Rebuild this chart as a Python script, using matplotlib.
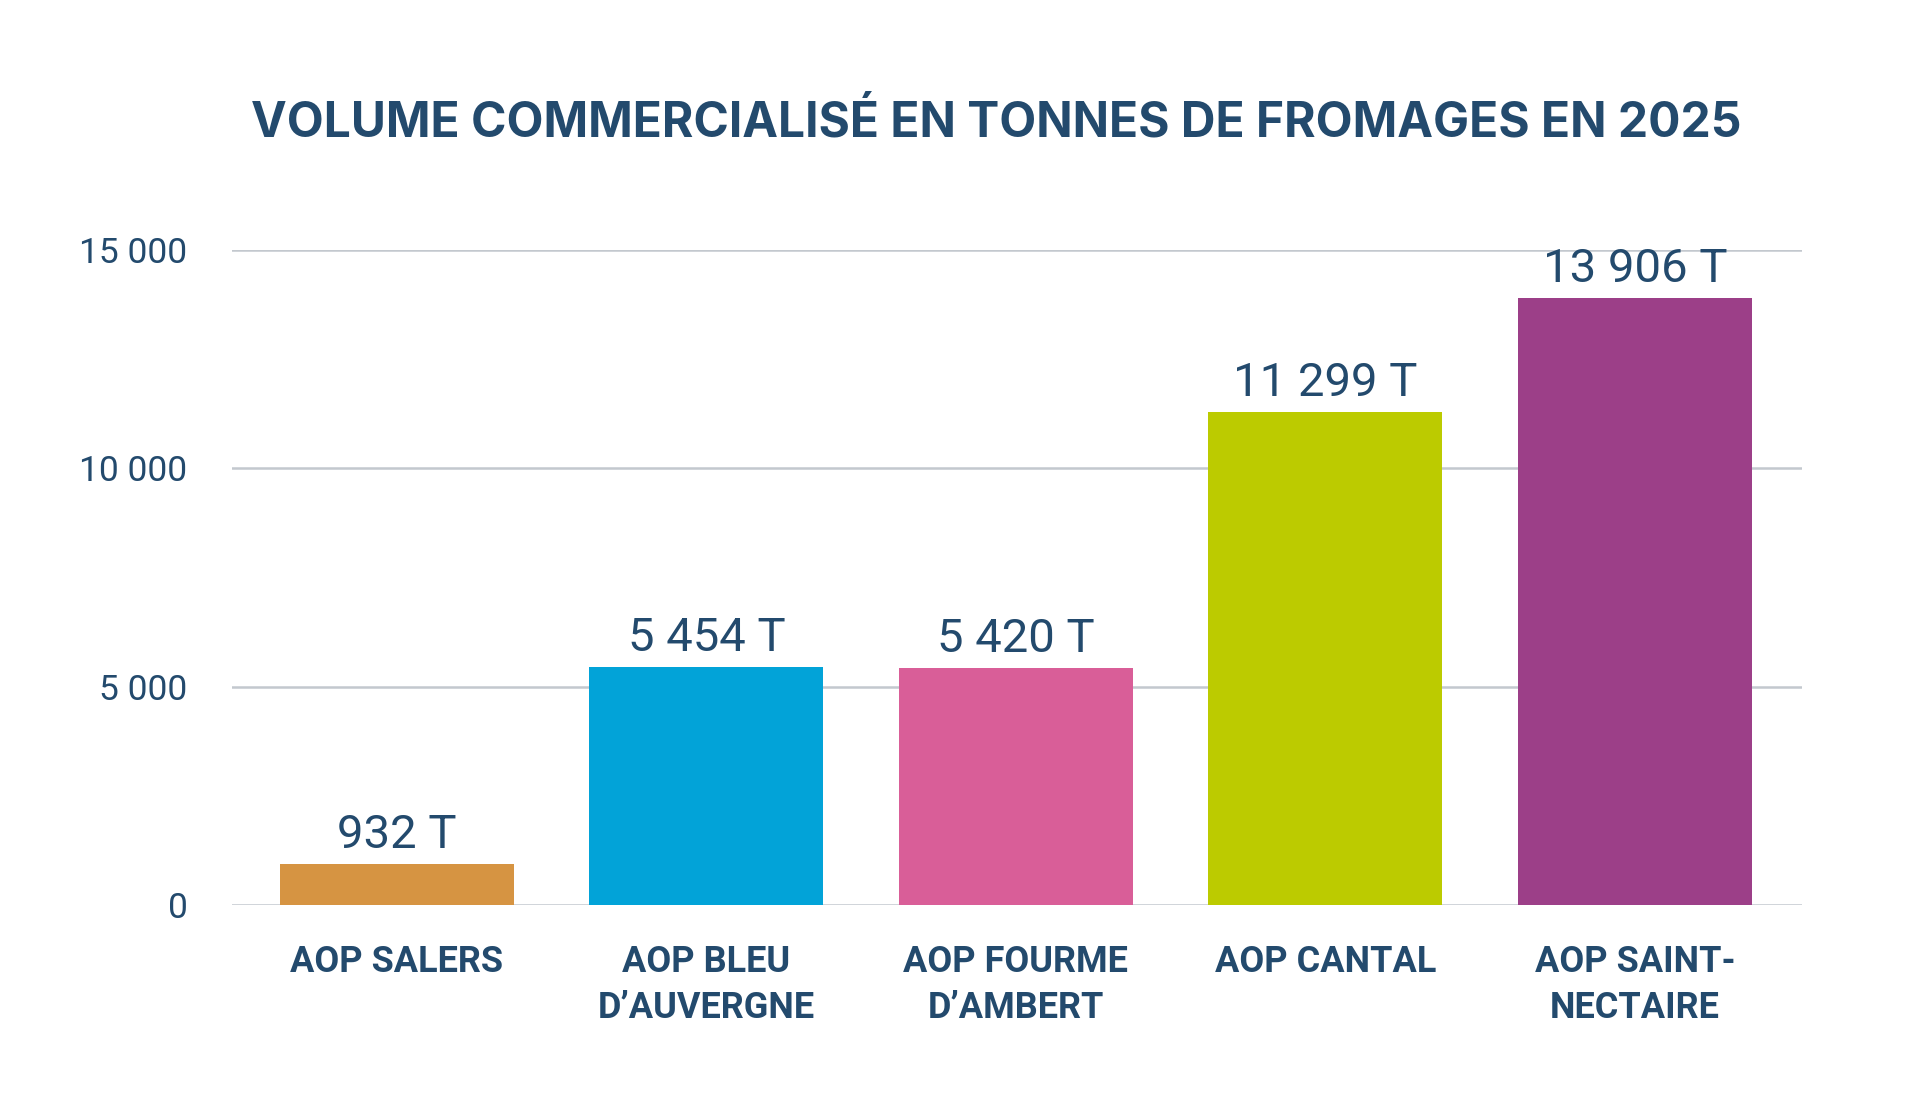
import matplotlib
matplotlib.use("Agg")
import matplotlib.pyplot as plt
import numpy as np

# data
categories = ["AOP SALERS", "AOP BLEU\nD\u2019AUVERGNE", "AOP FOURME\nD\u2019AMBERT",
              "AOP CANTAL", "AOP SAINT-\nNECTAIRE"]
volumes = [932, 5454, 5420, 11299, 13906]
value_labels = ["932 T", "5 454 T", "5 420 T", "11 299 T", "13 906 T"]
yticks = [0, 5000, 10000, 15000]
ytick_labels = ["0", "5 000", "10 000", "15 000"]
colors = ["#d69442", "#02a3d8", "#d95e98", "#bccb00", "#9c3f88"]

navy = "#234a6d"
body = ["Roboto", "DejaVu Sans"]

fig = plt.figure(figsize=(19.2, 11.02), dpi=100)
ax = fig.add_axes([0.1208, 0.1788, 0.9385 - 0.1208, 0.7731 - 0.1788])

x = np.arange(len(categories))
ax.bar(x, volumes, width=0.756, color=colors, zorder=3)

for xi, v, lab in zip(x, volumes, value_labels):
    ax.annotate(lab, (xi, v), xytext=(0, 5), textcoords="offset points",
                ha="center", va="bottom", fontsize=34, color=navy,
                family=body, annotation_clip=False)

ax.set_xlim(-0.533, 4.54)
ax.set_ylim(0, 15000)
ax.set_yticks(yticks)
ax.set_yticklabels(ytick_labels, family=body, fontsize=25.5, color=navy)
ax.set_xticks(x)
ax.set_xticklabels(categories, family=body, fontsize=26, fontweight="bold",
                   color=navy, linespacing=1.38, va="top")
ax.tick_params(axis="y", length=0, pad=32)
ax.tick_params(axis="x", length=0, pad=28)
ax.yaxis.grid(True, color="#c3c8ce", linewidth=1.8, zorder=0)
for s in ax.spines.values():
    s.set_visible(False)

fig.text(996 / 1920, 1 - 123 / 1102, "VOLUME COMMERCIALIS\u00c9 EN TONNES DE FROMAGES EN 2025",
         ha="center", va="center", fontsize=34.5, fontweight="bold", color=navy,
         family=["Inter", "DejaVu Sans"])

fig.savefig("out.png", dpi=100, facecolor="white")
